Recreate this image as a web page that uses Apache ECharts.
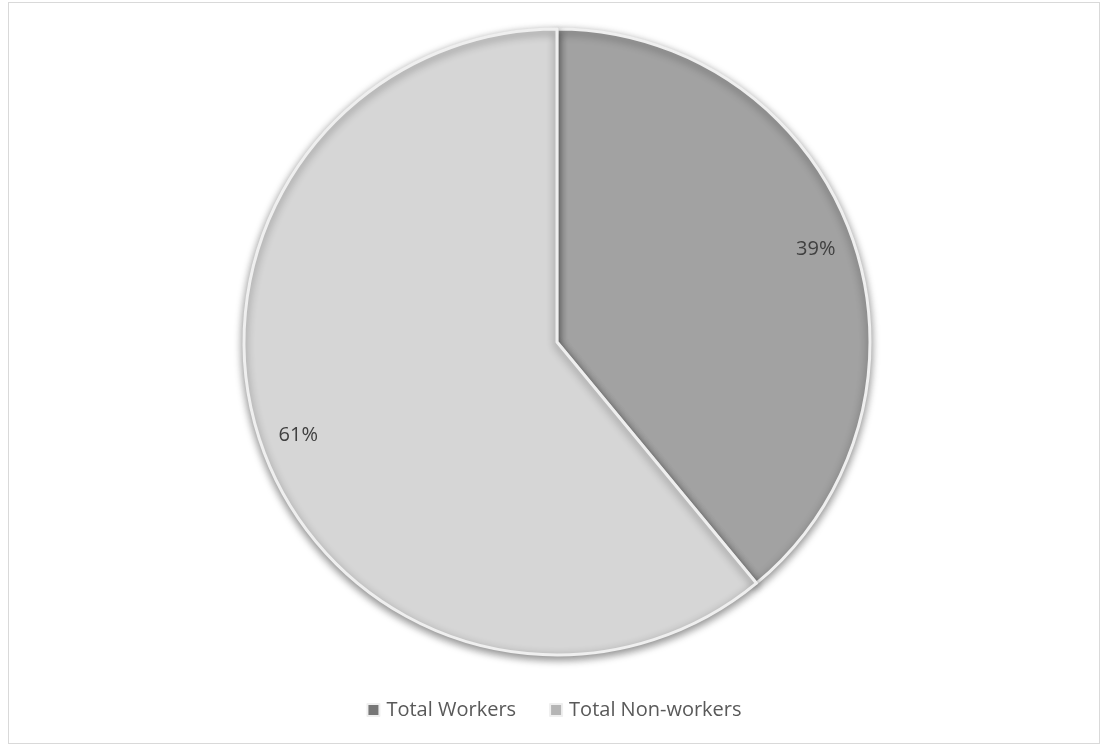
<!DOCTYPE html>
<html>
<head>
<meta charset="utf-8">
<script src="https://cdn.jsdelivr.net/npm/echarts@6/dist/echarts.min.js"></script>
<style>
html,body{margin:0;padding:0;background:#fff;}
#frame{position:absolute;left:8px;top:2px;width:1092px;height:742px;border:1px solid #d9d9d9;box-sizing:border-box;}
#chart{position:absolute;left:0;top:0;width:1108px;height:748px;}
</style>
</head>
<body>
<div id="frame"></div>
<div id="chart"></div>
<script>
const categories = ['Total Workers', 'Total Non-workers'];
const values = [39, 61];
const colors = ['#a2a2a2', '#d6d6d6'];
const legendColors = ['#777777', '#b5b5b5'];

const chart = echarts.init(document.getElementById('chart'), null, {renderer: 'canvas'});
const data = categories.map((c, i) => ({
  name: c, value: values[i],
  itemStyle: {color: colors[i]}
}));
chart.setOption({
  animation: false,
  legend: {
    top: 695, left: 'center',
    itemWidth: 12, itemHeight: 12, itemGap: 33,
    icon: 'rect',
    textStyle: {fontFamily: 'Open Sans', fontSize: 20, color: '#595959', padding: [0, 0, 0, 2]},
    data: categories.map((c, i) => ({name: c, itemStyle: {color: legendColors[i]}}))
  },
  series: [
    {
      type: 'pie',
      center: [557, 342],
      radius: [0, 313],
      startAngle: 90,
      clockwise: true,
      data: data,
      label: {show: false},
      labelLine: {show: false},
      itemStyle: {
        borderColor: '#efefef', borderWidth: 3,
        shadowBlur: 8, shadowOffsetY: 3, shadowColor: 'rgba(0,0,0,0.45)'
      },
      silent: true
    },
    {
      type: 'pie',
      center: [557, 342],
      radius: [231, 313],
      startAngle: 90,
      clockwise: true,
      data: categories.map((c, i) => ({name: c, value: values[i]})),
      itemStyle: {color: 'rgba(0,0,0,0)'},
      label: {
        show: true, position: 'inside',
        formatter: p => p.value + '%',
        fontFamily: 'Open Sans', fontSize: 20, color: '#404040'
      },
      labelLine: {show: false},
      legendHoverLink: false,
      silent: true
    }
  ]
});
</script>
</body>
</html>
